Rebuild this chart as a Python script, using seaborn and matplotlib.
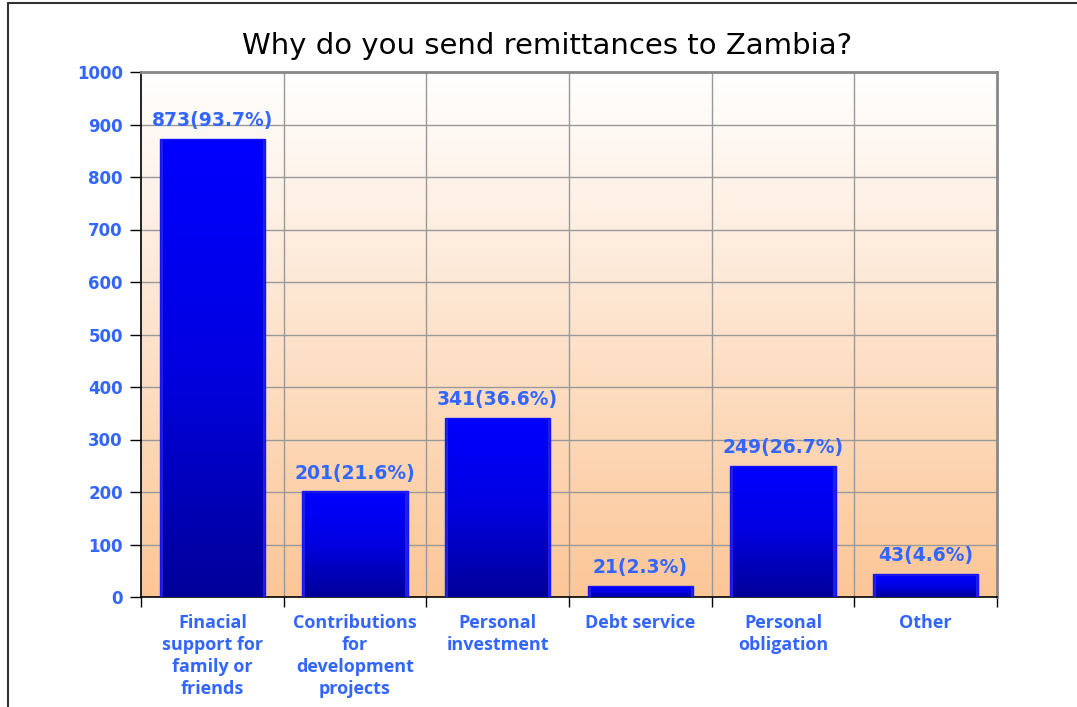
import numpy as np
import pandas as pd
import seaborn as sns
import matplotlib.pyplot as plt
from matplotlib.colors import LinearSegmentedColormap
from matplotlib.lines import Line2D

categories = ["Finacial\nsupport for\nfamily or\nfriends",
              "Contributions\nfor\ndevelopment\nprojects",
              "Personal\ninvestment",
              "Debt service",
              "Personal\nobligation",
              "Other"]
counts = [873, 201, 341, 21, 249, 43]
percents = [93.7, 21.6, 36.6, 2.3, 26.7, 4.6]
y_ticks = [0, 100, 200, 300, 400, 500, 600, 700, 800, 900, 1000]

label_blue = "#3366FF"

df = pd.DataFrame({"reason": categories, "count": counts})

sns.set_theme(style="white")
plt.rcParams['font.family'] = ['DejaVu Sans']

fig = plt.figure(figsize=(10.77, 7.07), dpi=100)
ax = fig.add_axes([141 / 1077, 1 - 597 / 707, (997 - 141) / 1077, (597 - 72) / 707])

sns.barplot(data=df, x="reason", y="count", ax=ax, color="#0000FF",
            width=0.74, edgecolor="#1414FF", linewidth=1.0, zorder=3)

ax.set_xlim(-0.5, len(categories) - 0.5)
ax.set_ylim(0, 1000)

# background gradient: white at top to peach at bottom
bg = LinearSegmentedColormap.from_list("bg", ["#FCC697", "#FFFFFF"])
grad = np.linspace(0, 1, 256).reshape(-1, 1)
ax.imshow(grad, cmap=bg, aspect="auto", origin="lower",
          extent=[-0.5, len(categories) - 0.5, 0, 1000], zorder=0)

# bar gradient: bright blue at top to dark navy at bottom
bar_cmap = LinearSegmentedColormap.from_list("bars", ["#000099", "#0000E0", "#0000FF"])
for p in ax.patches:
    x0, w, h = p.get_x(), p.get_width(), p.get_height()
    ax.imshow(grad, cmap=bar_cmap, aspect="auto", origin="lower",
              extent=[x0 + 0.022, x0 + w - 0.022, 0, h - 3], zorder=3.5)

# gridlines
for yv in y_ticks[1:]:
    ax.axhline(yv, color="#999999", lw=1, zorder=1)
for xv in np.arange(0.5, len(categories) - 0.5, 1):
    ax.axvline(xv, color="#999999", lw=1, zorder=1)

ax.set_yticks(y_ticks)
ax.set_yticklabels([str(v) for v in y_ticks], color=label_blue,
                   fontweight="bold", fontsize=12)
ax.set_xticks(np.arange(-0.5, len(categories), 1))
ax.set_xticklabels([])
ax.set_xticks(np.arange(len(categories)), minor=True)
ax.set_xticklabels(categories, minor=True, color=label_blue, fontweight="bold",
                   fontsize=13, family="Open Sans", linespacing=1.3, va="top")
ax.tick_params(axis="x", which="minor", length=0, pad=12)
ax.tick_params(axis="x", which="major", length=7, width=1, color="black",
               direction="out", bottom=True)
ax.tick_params(axis="y", length=8, width=1, color="black", direction="out",
               left=True, pad=5)
ax.set_xlabel("")
ax.set_ylabel("")

for side in ["top", "right"]:
    ax.spines[side].set_color("#888888")
    ax.spines[side].set_linewidth(2)
for side in ["left", "bottom"]:
    ax.spines[side].set_color("black")
    ax.spines[side].set_linewidth(1.2)

for i, (c, pc) in enumerate(zip(counts, percents)):
    ax.text(i, c + 17, f"{c}({pc}%)", ha="center", va="bottom",
            color=label_blue, fontweight="bold", fontsize=13.5, zorder=5)

fig.text(547 / 1077, 1 - 46 / 707, "Why do you send remittances to Zambia?",
         ha="center", va="center", fontsize=21, color="black")

# outer frame lines (top and left)
fig.add_artist(Line2D([8 / 1077, 1], [1 - 3 / 707, 1 - 3 / 707],
                      color="#333333", lw=1.5, transform=fig.transFigure))
fig.add_artist(Line2D([8 / 1077, 8 / 1077], [0, 1 - 3 / 707],
                      color="#333333", lw=1.5, transform=fig.transFigure))

fig.savefig("out.png", dpi=100, facecolor="white")
